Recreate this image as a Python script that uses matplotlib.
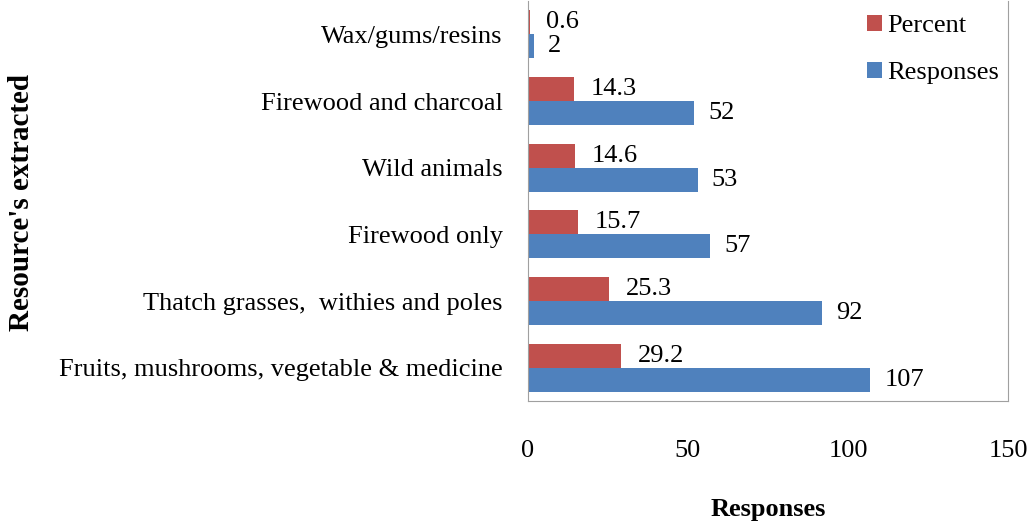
import numpy as np
import matplotlib.pyplot as plt

plt.rcParams['font.family'] = ['Liberation Serif', 'DejaVu Serif']

# resources, bottom to top
resources = ['Fruits, mushrooms, vegetable & medicine',
             'Thatch grasses,  withies and poles',
             'Firewood only',
             'Wild animals',
             'Firewood and charcoal',
             'Wax/gums/resins']
responses = [107, 92, 57, 53, 52, 2]
percent = [29.2, 25.3, 15.7, 14.6, 14.3, 0.6]

red = '#C0504D'
blue = '#4F81BD'

fig = plt.figure(figsize=(10.35, 5.25), dpi=100)
ax = fig.add_axes([0.510, 0.236, 0.464, 0.762])

y = np.arange(len(resources))
h = 0.36
ax.barh(y + h / 2, percent, height=h, color=red, label='Percent')
ax.barh(y - h / 2, responses, height=h, color=blue, label='Responses')

for yi, p, r in zip(y, percent, responses):
    ax.annotate(str(p), (p, yi + h / 2), xytext=(12, 0), textcoords='offset points',
                va='center', ha='left', fontsize=19)
    ax.annotate(str(r), (r, yi - h / 2), xytext=(10, 0), textcoords='offset points',
                va='center', ha='left', fontsize=19)

ax.set_xlim(0, 150)
ax.set_ylim(-0.5, 5.5)
ax.set_xticks([0, 50, 100, 150])
ax.set_yticks(y)
ax.set_yticklabels(resources)
ax.tick_params(axis='both', length=0, labelsize=19)
ax.tick_params(axis='x', pad=28)
ax.tick_params(axis='y', pad=18)

for s in ['left', 'bottom', 'right', 'top']:
    ax.spines[s].set_color('#A0A0A0')
ax.spines['top'].set_visible(False)

ax.set_xlabel('Responses', fontsize=19, fontweight='bold', labelpad=26)
fig.text(0.021, 0.615, "Resource's extracted", rotation=90, fontsize=21,
         fontweight='bold', ha='center', va='center')

ax.legend(loc='upper right', bbox_to_anchor=(1.03, 1.025), frameon=False, fontsize=19,
          handlelength=0.55, handleheight=0.55, handletextpad=0.2, labelspacing=0.95)

fig.savefig('out.png', dpi=100)
